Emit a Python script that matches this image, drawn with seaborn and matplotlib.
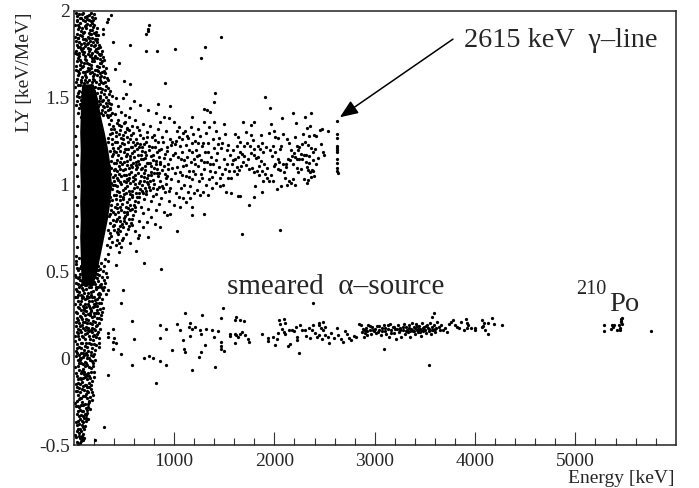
#!python3
import pandas as pd
import matplotlib
matplotlib.use("Agg")
import matplotlib.pyplot as plt
import seaborn as sns

sns.set_style("ticks")
plt.rcParams['font.family'] = ['Liberation Serif', 'DejaVu Serif']

# All points (energy keV, LY keV/MeV)
gamma_line = [(2623,1.367),(2621,1.294),(2621,1.267),(2624,1.223),(2626,1.21),(2628,1.198),(2627,1.185),
    (2625,1.146),(2626,1.123),(2627,1.098),(2628,1.079),(2630,1.066)]

gamma_far = [(1906,1.507),(1956,1.444),(2189,1.415),(2366,1.41),(2302,1.392),(2079,1.381),(1683,1.361),(1796,1.358),
    (1763,1.342),(1969,1.35),(2219,1.356),(2356,1.338),(2329,1.327),(2479,1.319),(2453,1.313),(2536,1.308),
    (1610,1.29),(1640,1.272),(1720,1.302),(1770,1.285),(1790,1.255),(1870,1.288),(1872,1.24),(1950,1.295),
    (1995,1.31),(2005,1.272),(2040,1.27),(2090,1.29),(2130,1.262),(2150,1.238),(2210,1.275),(2222,1.225),
    (2290,1.292),(2350,1.28),(2395,1.285),(2410,1.28),(2465,1.235),(2485,1.188),(2495,1.172),(2400,1.205),
    (2390,1.19),(2370,1.21),(2340,1.23),(2310,1.245),(2280,1.235),(2250,1.218),(2235,1.2),(2270,1.175),
    (2300,1.172),(2320,1.17),(2345,1.165),(2385,1.14),(2350,1.122),(2330,1.1),(2375,1.085),(2385,1.08),
    (2365,1.045),(2335,1.028),(2330,1.01),(2300,1.035),(2270,1.09),(2230,1.095),(2235,1.075),(2190,1.12),
    (2160,1.14),(2140,1.145),(2120,1.12),(2115,1.1),(2085,1.12),(2045,1.132),(2035,1.15),(2005,1.12),
    (2000,1.105),(2040,1.09),(2060,1.085),(2095,1.075),(2110,1.04),(2145,1.02),(2185,1.03),(2165,1.01),
    (2205,1.0),(2125,0.995),(2070,0.99),(2025,0.975),(1990,1.02),(1965,1.055),(1930,1.095),(1900,1.12),
    (1870,1.135),(1850,1.11),(1840,1.16),(1820,1.155),(1800,1.17),(1765,1.18),(1740,1.15),(1700,1.165),
    (1680,1.175),(1660,1.19),(1640,1.16),(1610,1.15),(1590,1.14),(1600,1.08),(1650,1.085),(1630,1.06),
    (1625,1.1),(1665,1.105),(1690,1.13),(1720,1.115),(1745,1.09),(1775,1.095),(1800,1.075),(1830,1.08),
    (1850,1.055),(1880,1.08),(1905,1.06),(1930,1.04),(1950,1.02),(1890,1.02),(1810,0.99),(1875,0.96),
    (1800,0.93),(1660,0.932),(1750,0.88),(1680,0.715),(2055,0.74),(1565,0.95),(1640,0.935),(1570,1.04),
    (1590,1.2),(1625,1.225),(1660,1.245),(1695,1.22),(1730,1.24),(1760,1.225),(1795,1.205),(1835,1.22),
    (1860,1.205),(1885,1.19),(1920,1.215),(1960,1.2),(1985,1.22),(2010,1.19),(1975,1.165),(2055,1.205),
    (2070,1.22),(2165,1.2),(2195,1.18),(2180,1.165),(2205,1.16),(2225,1.15),(2245,1.15),(2280,1.145),
    (2315,1.13),(2340,1.085),(2360,1.07),(2410,1.12),(2430,1.155),(2395,1.05)]

gamma_mid = [(1000,1.36),(1030,1.31),(1050,1.33),(1090,1.3),(1110,1.31),(1140,1.27),(1170,1.33),(1190,1.29),(1210,1.25),
    (1240,1.32),(1260,1.28),(1290,1.24),(1320,1.3),(1350,1.33),(1390,1.26),(1420,1.31),(1450,1.27),(1480,1.24),
    (1510,1.29),(1540,1.23),(1395,1.36),(1300,1.36),(1500,1.35),(1020,1.25),(1060,1.22),(1080,1.26),(1120,1.23),
    (1150,1.2),(1180,1.24),(1220,1.2),(1250,1.17),(1275,1.22),(1310,1.19),(1340,1.24),(1365,1.16),(1400,1.21),
    (1430,1.18),(1465,1.21),(1495,1.15),(1525,1.2),(1560,1.17),(1575,1.12),(1010,1.18),(1040,1.16),(1075,1.19),
    (1100,1.14),(1130,1.16),(1165,1.13),(1200,1.15),(1235,1.11),(1265,1.14),(1295,1.09),(1330,1.13),(1355,1.08),
    (1385,1.12),(1410,1.07),(1445,1.1),(1475,1.06),(1505,1.09),(1535,1.04),(1550,1.08),(1025,1.1),(1055,1.07),
    (1085,1.11),(1115,1.05),(1145,1.08),(1175,1.03),(1205,1.06),(1245,1.02),(1280,1.04),(1315,1.0),(1345,1.03),
    (1375,0.98),(1420,1.01),(1455,0.99),(1490,1.0),(1515,0.96),(1035,1.02),(1070,0.98),(1100,1.0),(1135,0.96),
    (1160,0.99),(1195,0.95),(1225,0.97),(1260,0.94),(1290,0.96),(1335,0.94),(1015,0.95),(1045,0.93),(1090,0.92),
    (1120,0.9),(1155,0.92),(1180,0.87),(1000,0.88),(1060,0.87),(960,0.83),(1178,0.824),(1301,0.83),(1028,0.734),
    (858,0.757),(741,0.699),(645,0.693),(1178,1.392),(954,1.386),(838,1.467),(961,1.45),(1301,1.434),(1328,1.429),
    (1354,1.419),(1401,1.477),(1411,1.53),(911,1.588),(1271,1.728),(828,1.767),(722,1.767),(1005,1.782),(1311,1.79),
    (562,1.803),(1467,1.851),(722,1.866),(745,1.886),(738,1.895),(755,1.918),(369,1.976),(345,1.953),(335,1.937),
    (295,1.899),(289,1.866),(389,1.822),(455,1.703),(412,1.665),(502,1.598),(562,1.578),
    (1012,1.233),(1068,1.148),(1133,1.282),(1187,1.077),(1228,1.162),(1272,1.063),(1338,1.187),(1362,1.117),(1418,1.142),
    (1462,1.038),(1528,1.118),(1182,1.187),(1118,1.113),(1052,1.273),(1302,1.132),(1378,1.042),(1442,1.232),(1212,1.118),
    (1152,1.042),(1082,1.053),(1008,1.068),(1242,1.238)]

gamma_near = [(420,1.5),(490,1.5),(520,1.52),(560,1.44),(600,1.48),(660,1.46),(740,1.43),(820,1.41),(860,1.36),(900,1.39),
    (437,1.452),(468,1.417),(513,1.362),(547,1.392),(583,1.338),(612,1.373),(648,1.317),(693,1.348),(727,1.302),(762,1.337),
    (803,1.283),(842,1.322),(883,1.276),(921,1.307),(958,1.262),(394,1.336),(423,1.303),(452,1.341),(488,1.286),(527,1.318),
    (558,1.263),(592,1.297),(627,1.242),(663,1.284),(704,1.231),(733,1.276),(778,1.215),(812,1.258),(853,1.202),(892,1.243),
    (934,1.196),(972,1.228),(407,1.247),(442,1.213),(473,1.268),(511,1.206),(543,1.247),(577,1.182),(613,1.226),(642,1.173),
    (683,1.217),(712,1.152),(753,1.197),(788,1.143),(827,1.186),(862,1.132),(908,1.177),(943,1.121),(988,1.168),(392,1.174),
    (433,1.143),(458,1.196),(503,1.132),(532,1.178),(572,1.112),(604,1.157),(633,1.103),(672,1.146),(707,1.083),(738,1.127),
    (772,1.073),(818,1.117),(852,1.064),(897,1.106),(932,1.052),(978,1.097),(413,1.091),(453,1.062),(482,1.118),(523,1.053),
    (552,1.096),(593,1.042),(622,1.088),(662,1.023),(698,1.067),(728,1.013),(767,1.058),(803,1.003),(838,1.047),(882,0.992),
    (918,1.036),(963,0.982),(402,1.022),(432,0.993),(472,1.047),(507,0.982),(538,1.027),(578,0.963),(607,1.006),(648,0.951),
    (677,0.997),(717,0.943),(748,0.987),(792,0.932),(828,0.976),(872,0.922),(908,0.957),(952,0.903),(418,0.942),(457,0.913),
    (488,0.967),(527,0.902),(558,0.947),(597,0.883),(628,0.926),(667,0.872),(698,0.917),(737,0.862),(773,0.907),(817,0.852),
    (853,0.887),(897,0.843),(933,0.823),(407,0.873),(438,0.843),(477,0.887),(512,0.822),(543,0.867),(582,0.803),(613,0.846),
    (652,0.792),(688,0.837),(727,0.782),(768,0.816),(812,0.772),(422,0.792),(462,0.763),(498,0.807),(537,0.743),(573,0.776),
    (612,0.733),(652,0.712),(688,0.756),(442,0.713),(478,0.683),(522,0.716),(562,0.662),(398,0.737),(422,0.654),(452,0.613),
    (618,0.618),(705,0.551),(875,0.512),(422,0.537),(489,0.393),(475,0.32),
    (335,1.402),(348,1.347),(362,1.289),(341,1.243),(358,1.196),(333,1.152),(352,1.108),(329,1.071),(347,1.027),(363,0.986),
    (338,0.948),(354,0.903),(331,0.862),(349,0.817),(366,0.776),(337,0.738),(356,0.691),(328,0.654),(346,0.603),(372,1.372),
    (383,1.297),(377,1.232),(386,1.163),(374,1.098),(389,1.043),(378,0.973),(384,0.912),(373,0.851),(387,0.796),(376,0.702),
    (412,1.406),(406,1.322),(417,1.278),(403,1.192),(421,1.127),(408,1.058),(416,0.997),(423,0.916),(411,0.832),(404,0.768),
    (443,1.373),(451,1.294),(437,1.172),(448,1.108),(441,1.028),(453,0.957),(436,0.886),(449,0.812),(444,0.742),(456,0.662),
    (473,1.337),(484,1.237),(468,1.153),(492,1.083),(476,1.002),(487,0.927),(469,0.851),(483,0.772),(496,0.693),(507,1.403),
    (516,1.302),(503,1.233),(519,1.163),(508,1.092),(521,1.017),(506,0.947),(517,0.872),(504,0.793),(534,1.327),(546,1.207),
    (531,1.137),(549,1.062),(536,0.992),(551,0.917),(533,0.833),(547,0.763),(567,1.283),(573,1.217),(562,1.146),(576,1.073),
    (566,1.007),(579,0.927),(563,0.852),(596,1.243),(603,1.192),(591,1.126),(608,1.057),(598,0.978),(611,0.907),(593,0.823),
    (627,1.333),(634,1.206),(622,1.132),(638,1.068),(628,0.987),(641,0.902),(657,1.236),(668,1.173),(653,1.117),(671,1.047),
    (658,0.973),(687,1.267),(693,1.147),(681,1.096),(698,1.022),(686,0.952),(718,1.246),(724,1.173),(712,1.107),(728,1.036),
    (716,0.962),(748,1.223),(757,1.123),(742,1.057),(759,0.968),(778,1.272),(786,1.172),(773,1.107),(789,1.027),(808,1.216),
    (816,1.137),(803,1.067),(819,0.947),(838,1.243),(847,1.157),(833,1.087),(849,0.987),(868,1.206),(877,1.082),(863,1.018),
    (898,1.152),(907,1.063),(893,0.982),(928,1.218),(937,1.092),(923,1.002),(958,1.147),(967,1.032),(953,0.962),(984,1.247),
    (357,1.433),(371,1.318),(344,1.268),(381,1.263),(393,1.212),(368,1.138),(397,1.127),(362,1.062),(399,1.083),(371,1.012),
    (394,0.997),(363,0.927),(401,0.942),(368,0.882),(396,0.843),(359,0.832),(391,0.762),(364,0.721),(384,0.668),(357,0.642),
    (427,1.352),(431,1.246),(426,1.187),(429,1.079),(433,1.037),(427,0.962),(431,0.867),(434,0.803),(428,0.727),(433,0.681),
    (461,1.313),(463,1.221),(459,1.132),(464,1.087),(458,1.014),(463,0.937),(459,0.872),(466,0.792),(461,0.732),(467,0.643),
    (497,1.357),(494,1.263),(497,1.187),(499,1.057),(497,1.019),(493,0.918),(498,0.842),(493,0.757),(528,1.276),(526,1.204),
    (529,1.112),(527,1.032),(526,0.952),(529,0.843),(524,0.777),(556,1.316),(558,1.163),(556,1.037),(554,0.962),(559,0.883),
    (552,0.803),(585,1.218),(583,1.103),(587,1.021),(582,0.942),(586,0.862),(583,0.767),(616,1.262),(618,1.112),(614,1.032),
    (619,0.953),(614,0.872),(647,1.216),(644,1.137),(649,1.012),(646,0.927),(676,1.196),(674,1.087),(678,0.962),(706,1.186),
    (703,1.046),(708,0.982),(734,1.127),(737,1.003),(767,1.166),(763,1.023),(797,1.097),(793,0.982),(827,1.067),(857,1.116)]

strip_top = [(20,1.99),(55,1.98),(90,1.99),(130,1.97),(170,1.99),(200,1.98),(35,1.95),(70,1.96),(110,1.94),(150,1.95),
    (185,1.93),(215,1.96),(15,1.92),(50,1.91),(85,1.9),(125,1.92),(160,1.89),(195,1.91),(225,1.88),(30,1.87),
    (65,1.86),(105,1.88),(140,1.85),(175,1.87),(210,1.84),(240,1.86),(20,1.83),(55,1.82),(95,1.84),(130,1.81),
    (165,1.83),(200,1.8),(235,1.82),(260,1.79),(40,1.79),(75,1.78),(115,1.8),(150,1.77),(185,1.76),(220,1.78),
    (250,1.75),(280,1.77),(15,1.76),(50,1.74),(90,1.75),(125,1.72),(160,1.74),(200,1.71),(235,1.73),(270,1.7),
    (300,1.72),(30,1.71),(65,1.69),(105,1.7),(140,1.67),(175,1.69),(215,1.66),(250,1.68),(285,1.65),(320,1.67),
    (20,1.66),(55,1.64),(90,1.65),(125,1.62),(160,1.64),(195,1.61),(230,1.63),(265,1.6),(300,1.62),(340,1.6),
    (35,1.61),(75,1.59),(110,1.6),(145,1.57),(180,1.59),(215,1.56),(250,1.58),(285,1.55),(320,1.57),(360,1.54),
    (15,1.56),(50,1.54),(90,1.55),(125,1.52),(160,1.54),(195,1.51),(230,1.53),(265,1.5),(300,1.52),(340,1.49),
    (380,1.51),(35,1.51),(70,1.49),(105,1.5),(145,1.47),(180,1.49),(215,1.46),(250,1.48),(290,1.45),(325,1.47),
    (365,1.44),(20,1.46),(55,1.44),(90,1.45),(125,1.43),(160,1.44),(200,1.42),(235,1.43),(270,1.41),(310,1.42),
    (345,1.39),(385,1.41),(40,1.41),(75,1.39),(30,1.34),(15,1.28),(25,1.22),(35,1.17),(12,1.12),(28,1.05),(38,0.99),
    (14,0.93),(30,0.88),(22,0.82),(36,0.76),(16,0.7),(28,0.64),(18,0.59),
    (37,1.973),(78,1.982),(113,1.968),(152,1.977),(186,1.964),(28,1.941),(62,1.932),(97,1.946),(137,1.927),(173,1.942),
    (207,1.918),(42,1.898),(73,1.883),(118,1.902),(148,1.873),(187,1.892),(218,1.862),(12,1.852),(47,1.843),(83,1.857),
    (122,1.834),(153,1.846),(188,1.822),(222,1.832),(252,1.806),(33,1.807),(67,1.793),(102,1.813),(138,1.787),(172,1.803),
    (208,1.772),(243,1.784),(272,1.752),(22,1.772),(57,1.757),(82,1.767),(117,1.742),(147,1.753),(182,1.727),(217,1.743),
    (258,1.722),(288,1.737),(43,1.727),(72,1.708),(112,1.724),(152,1.697),(187,1.713),(228,1.684),(262,1.702),(297,1.683),
    (27,1.682),(58,1.668),(97,1.684),(132,1.652),(168,1.672),(203,1.638),(242,1.653),(277,1.626),(312,1.643),(42,1.632),
    (82,1.618),(117,1.632),(153,1.602),(188,1.624),(223,1.592),(258,1.618),(293,1.587),(328,1.612),(25,1.592),(62,1.573),
    (98,1.584),(133,1.553),(168,1.572),(206,1.538),(243,1.557),(277,1.532),(312,1.547),(347,1.523),(42,1.527),(83,1.513),
    (118,1.532),(153,1.507),(188,1.526),(223,1.492),(258,1.512),(283,1.482),(317,1.503),(352,1.472),(28,1.482),(62,1.467),
    (98,1.476),(133,1.452),(172,1.468),(208,1.437),(243,1.452),(278,1.432),(303,1.447),(337,1.432),(373,1.462),
    (67,1.962),(132,1.952),(197,1.948),(47,1.922),(108,1.912),(167,1.917),(232,1.902),(88,1.874),(163,1.867),(202,1.872),
    (38,1.846),(108,1.837),(178,1.843),(237,1.841),(72,1.812),(147,1.818),(217,1.806),(92,1.787),(162,1.781),(233,1.762),
    (32,1.752),(102,1.762),(172,1.748),(262,1.748),(62,1.718),(132,1.702),(207,1.727),(282,1.712),(87,1.677),(157,1.662),
    (232,1.662),(302,1.652),(47,1.652),(112,1.648),(182,1.648),(262,1.642),(72,1.602),(137,1.592),(207,1.602),(277,1.592),
    (312,1.592),(47,1.573),(112,1.562),(187,1.552),(262,1.558),(337,1.558),(82,1.532),(142,1.487),(212,1.512),(297,1.487),
    (57,1.502),(122,1.482),(192,1.462),(262,1.462),(332,1.452),(77,1.452),(147,1.432),(222,1.417),(297,1.402),(362,1.402)]

strip_bottom = [(20,0.56),(55,0.58),(95,0.55),(130,0.57),(170,0.54),(205,0.56),(240,0.53),(275,0.55),(310,0.57),(345,0.56),
    (35,0.52),(70,0.53),(110,0.5),(145,0.52),(185,0.49),(220,0.51),(255,0.48),(290,0.5),(330,0.47),(15,0.48),
    (50,0.47),(90,0.48),(125,0.45),(165,0.47),(200,0.44),(235,0.46),(270,0.43),(305,0.45),(40,0.43),(75,0.42),
    (115,0.44),(150,0.41),(185,0.43),(225,0.4),(260,0.42),(295,0.39),(345,0.39),(20,0.4),(55,0.38),(95,0.39),
    (130,0.36),(170,0.38),(205,0.35),(240,0.37),(280,0.34),(320,0.37),(35,0.35),(70,0.33),(110,0.34),(145,0.31),
    (180,0.33),(215,0.3),(255,0.32),(290,0.29),(15,0.31),(50,0.29),(90,0.3),(125,0.27),(160,0.29),(200,0.26),
    (235,0.28),(270,0.25),(35,0.26),(70,0.24),(110,0.25),(145,0.22),(180,0.24),(215,0.21),(255,0.23),(20,0.21),
    (55,0.2),(90,0.21),(125,0.18),(165,0.2),(200,0.17),(235,0.19),(262,0.167),(40,0.17),(75,0.15),(110,0.16),
    (150,0.13),(185,0.15),(220,0.12),(252,0.115),(15,0.13),(50,0.11),(90,0.12),(125,0.09),(165,0.11),(205,0.08),
    (252,0.09),(35,0.08),(70,0.06),(110,0.07),(145,0.04),(185,0.06),(252,0.065),(20,0.04),(55,0.02),(95,0.03),
    (130,0.0),(170,0.02),(210,-0.01),(40,-0.01),(75,-0.03),(115,-0.02),(150,-0.05),(190,-0.03),(15,-0.05),(55,-0.07),
    (95,-0.06),(130,-0.09),(170,-0.08),(205,-0.11),(35,-0.1),(75,-0.12),(110,-0.11),(150,-0.14),(185,-0.13),(20,-0.15),
    (55,-0.17),(95,-0.16),(130,-0.19),(170,-0.18),(190,-0.21),(40,-0.21),(75,-0.23),(115,-0.22),(150,-0.25),(180,-0.24),
    (15,-0.26),(55,-0.28),(95,-0.27),(130,-0.3),(165,-0.29),(35,-0.32),(75,-0.33),(110,-0.32),(145,-0.35),(20,-0.37),
    (55,-0.38),(95,-0.37),(125,-0.36),(40,-0.41),(75,-0.42),(100,-0.41),(15,-0.44),(50,-0.45),(80,-0.46),(30,-0.48),
    (65,-0.49),(90,-0.47),(305,-0.396),(212,-0.473),(345,-0.095),(60,0.45),(85,0.36),(100,0.28),(30,0.15),(75,0.09),
    (60,0.0),(100,-0.08),(30,-0.19),(60,-0.3),(20,0.47),(110,0.42),(150,0.35),(175,0.27),(140,0.16),(120,0.03),
    (27,0.543),(63,0.517),(83,0.538),(118,0.512),(157,0.503),(193,0.522),(228,0.487),(262,0.511),(283,0.468),(318,0.492),
    (42,0.462),(78,0.447),(103,0.472),(138,0.437),(172,0.453),(208,0.427),(247,0.443),(277,0.412),(312,0.431),(23,0.433),
    (57,0.412),(87,0.427),(122,0.397),(158,0.418),(192,0.386),(218,0.408),(252,0.373),(287,0.402),(33,0.387),(68,0.366),
    (102,0.377),(137,0.347),(177,0.362),(212,0.336),(248,0.352),(272,0.317),(17,0.352),(47,0.327),(82,0.344),(117,0.312),
    (152,0.327),(188,0.297),(223,0.318),(263,0.284),(38,0.297),(73,0.278),(107,0.287),(142,0.257),(172,0.276),(207,0.243),
    (242,0.262),(277,0.227),(22,0.267),(58,0.243),(92,0.262),(127,0.227),(162,0.247),(197,0.212),(232,0.232),(43,0.218),
    (78,0.193),(112,0.207),(147,0.176),(182,0.197),(217,0.162),(247,0.153),(27,0.183),(62,0.162),(97,0.176),(132,0.143),
    (172,0.163),(207,0.132),(17,0.097),(47,0.143),(82,0.127),(117,0.113),(152,0.087),(192,0.103),(227,0.076),(37,0.057),
    (72,0.032),(102,0.047),(137,0.017),(177,0.036),(197,0.012),(27,0.012),(62,-0.013),(97,0.007),(122,-0.027),(162,-0.012),
    (197,-0.047),(47,-0.043),(82,-0.072),(112,-0.047),(142,-0.083),(177,-0.057),(27,-0.083),(62,-0.112),(102,-0.093),(137,-0.122),
    (167,-0.112),(42,-0.143),(87,-0.137),(122,-0.152),(172,-0.152),(27,-0.187),(67,-0.197),(107,-0.182),(147,-0.192),(52,-0.237),
    (92,-0.217),(132,-0.232),(167,-0.222),(27,-0.277),(72,-0.272),(112,-0.262),(147,-0.282),(47,-0.302),(92,-0.307),(127,-0.327),
    (67,-0.352),(107,-0.347),(37,-0.387),(82,-0.387),(117,-0.392),(57,-0.432),(92,-0.437),(27,-0.452),(72,-0.477),(47,-0.492),
    (43,0.507),(102,0.527),(137,0.482),(212,0.468),(247,0.507),(298,0.532),(67,0.487),(127,0.421),(177,0.409),(242,0.413),
    (302,0.412),(87,0.402),(147,0.378),(187,0.352),(232,0.342),(267,0.372),(47,0.362),(97,0.352),(157,0.302),(202,0.311),
    (237,0.303),(283,0.268),(62,0.312),(122,0.297),(167,0.261),(222,0.263),(252,0.202),(32,0.232),(82,0.227),(137,0.202),
    (187,0.172),(227,0.187),(67,0.187),(117,0.137),(157,0.157),(197,0.127),(237,0.137),(42,0.127),(87,0.087),(137,0.067),
    (177,0.083),(217,0.047),(57,0.067),(107,0.017),(157,0.002),(207,0.027),(32,0.032),(77,0.002),(132,-0.037),(182,-0.017),
    (52,-0.027),(92,-0.032),(152,-0.102),(202,-0.077),(72,-0.088),(122,-0.102),(42,-0.117),(92,-0.112),(157,-0.167),(62,-0.147),
    (112,-0.157),(37,-0.167),(82,-0.177),(137,-0.167),(178,-0.197),(62,-0.227),(122,-0.207),(157,-0.247),(37,-0.247),(87,-0.252),
    (142,-0.262),(47,-0.277),(122,-0.287),(82,-0.302),(137,-0.317),(57,-0.332),(92,-0.332),(122,-0.347),(47,-0.362),(82,-0.362),
    (62,-0.407),(97,-0.397),(32,-0.417),(82,-0.447),(107,-0.462),(62,-0.462)]

alpha_low = [(1025,0.199),(1161,0.205),(858,0.192),(1611,0.222),(915,0.17),(1145,0.182),(1178,0.17),(1211,0.178),(1058,0.163),
    (1254,0.163),(1314,0.17),(1381,0.165),(1441,0.157),(1271,0.142),(1161,0.128),(861,0.115),(605,0.109),(1398,0.12),
    (1085,0.103),(1471,0.094),(1561,0.138),(1554,0.128),(1621,0.132),(1604,0.088),(1304,0.074),(1467,0.071),(975,0.05),
    (1095,0.055),(1111,0.038),(1471,0.051),(1501,0.04),(1271,0.034),(1244,0.009),(748,0.015),(698,0.001),(791,0.001),
    (861,-0.014),(915,-0.041),(585,-0.037),(1178,-0.068),(1411,-0.052),(825,-0.141),(585,0.213),(1111,0.263),(1277,0.251),
    (1487,0.288),(1467,0.232),(475,0.025),(392,0.051),(395,0.167),(345,0.144),(345,0.124),(402,0.117),(395,0.092),(422,0.088),
    (1620,0.235),(1660,0.22),(1700,0.215),(1610,0.14),(1640,0.12),(1660,0.14),(1680,0.15),(1710,0.135),(1740,0.11),(1745,0.095)]

alpha_mid = [(1880,0.14),(1935,0.115),(1985,0.12),(1940,0.1),(2010,0.075),(2030,0.11),(2040,0.145),(2046,0.22),(2060,0.195),
    (2080,0.17),(2095,0.15),(2110,0.2),(2110,0.14),(2140,0.07),(2155,0.08),(2180,0.16),(2220,0.18),(2230,0.125),(2225,0.105),
    (2280,0.165),(2310,0.16),(2320,0.13),(2360,0.115),(2350,0.175),(2390,0.19),(2400,0.145),(2425,0.125),(2445,0.19),
    (2460,0.175),(2480,0.16),(2470,0.11),(2500,0.135),(2530,0.12),(2545,0.09),(2560,0.145),(2590,0.115),(2630,0.135),
    (2660,0.11),(2680,0.095),(2700,0.155),(2720,0.14),(2740,0.115),(2760,0.105),(2790,0.13),(2815,0.125),(2840,0.195),
    (2870,0.15),(2890,0.12),(2905,0.165),(2925,0.135),(2382,0.317),(2246,0.032),(3538,-0.039),(3095,0.055),(2100,0.225),
    (2145,0.165),(2195,0.155),(2260,0.19),(2375,0.16),(2480,0.21),(2440,0.205),(2500,0.18),(2440,0.135),(2620,0.175)]

alpha_dense = [(2860,0.19),(2880,0.17),(2900,0.145),(2915,0.175),(2935,0.19),(2950,0.16),(2965,0.14),(2975,0.18),(2990,0.155),
    (3005,0.17),(3020,0.185),(3035,0.15),(3045,0.165),(3060,0.135),(3075,0.175),(3090,0.19),(3100,0.155),(3115,0.14),(3130,0.17),
    (3140,0.125),(3150,0.195),(3165,0.16),(3180,0.18),(3195,0.145),(3205,0.17),(3215,0.11),(3230,0.19),(3240,0.15),(3255,0.175),
    (3265,0.125),(3280,0.16),(3290,0.195),(3300,0.14),(3310,0.18),(3320,0.165),(3330,0.15),(3340,0.19),(3350,0.125),(3360,0.17),
    (3370,0.205),(3380,0.155),(3390,0.18),(3400,0.14),(3410,0.195),(3420,0.165),(3430,0.15),(3440,0.185),(3450,0.17),(3460,0.13),
    (3470,0.2),(3480,0.155),(3490,0.18),(3500,0.165),(3510,0.145),(3520,0.19),(3530,0.175),(3540,0.155),(3550,0.205),(3560,0.14),
    (3570,0.18),(3580,0.165),(3590,0.19),(3600,0.15),(3610,0.175),(3620,0.21),(3588,0.259),(3575,0.24),(3640,0.18),(3650,0.165),
    (3660,0.19),(3680,0.16),(3700,0.175),(3720,0.15),(3740,0.195),(3765,0.21),(3780,0.22),(3800,0.19),(3820,0.18),(3460,0.16),
    (3430,0.17),(3400,0.175),(3370,0.165),(3340,0.175),(3310,0.155),(3280,0.18),(3250,0.16),(3220,0.17),(3190,0.18),(3160,0.145),
    (3130,0.19),(3100,0.175),(3070,0.155),(3040,0.185),(3010,0.145),(2980,0.165),(2950,0.185),(2920,0.155),(2890,0.165),(3390,0.155),
    (3420,0.185),(3450,0.15),(3480,0.175),(3510,0.185),(3540,0.17),(3570,0.16),(3600,0.17),(3495,0.16),(3445,0.165),(3355,0.155)]

alpha_end = [(3906,0.224),(3923,0.205),(3930,0.192),(3890,0.163),(3923,0.176),(3963,0.176),(3996,0.172),(4000,0.161),(4069,0.219),
    (4089,0.205),(4079,0.186),(4069,0.178),(4096,0.163),(4129,0.205),(4173,0.234),(4186,0.196),(4133,0.138),(4269,0.19),(3860,0.21),(3845,0.175)]

po_peak = [(5285,0.19),(5285,0.159),(5355,0.171),(5368,0.19),(5388,0.192),(5415,0.163),(5445,0.163),(5435,0.192),(5461,0.234),
    (5455,0.224),(5451,0.209),(5468,0.196),(5445,0.176),(5458,0.215),(5378,0.182),(5754,0.155)]

# dark core of the gamma band, too dense to pick single dots out of
core_ly = [0.42, 0.5, 0.6, 0.7, 0.8, 0.9, 1.0, 1.1, 1.2, 1.3, 1.4, 1.5, 1.58]
core_e_lo = [80, 70, 65, 60, 65, 60, 65, 60, 65, 60, 65, 70, 80]
core_e_hi = [190, 230, 265, 300, 335, 360, 375, 365, 340, 305, 265, 235, 195]

xticks_major = [1000, 2000, 3000, 4000, 5000]
yticks = [-0.5, 0, 0.5, 1, 1.5, 2]
ylabels = ["-0.5", "0", "0.5", "1", "1.5", "2"]

points = gamma_line + gamma_far + gamma_mid + gamma_near + strip_top + strip_bottom
points += alpha_low + alpha_mid + alpha_dense + alpha_end + po_peak
df = pd.DataFrame(points, columns=["energy", "ly"])

fig = plt.figure(figsize=(6.99, 4.88), dpi=100)
ax = fig.add_axes([73.7/699, 1-445/488, 602/699, 434/488])

ax.fill_betweenx(core_ly, core_e_lo, core_e_hi, color="k", lw=0)
sns.scatterplot(data=df, x="energy", y="ly", color="k", s=5.5, linewidth=0, ax=ax)

ax.set_xlim(0, 6000)
ax.set_ylim(-0.5, 2)
ax.set_xticks(xticks_major)
ax.set_xticks(range(200, 6000, 200), minor=True)
ax.set_yticks(yticks, ylabels)
ax.tick_params(axis="x", which="major", direction="in", length=9.5, width=0.8, labelsize=14, pad=6, color="#333333")
ax.tick_params(axis="x", which="minor", direction="in", length=4.8, width=0.8, color="#333333")
ax.tick_params(axis="y", which="major", length=0, labelsize=14, pad=3)
for s in ax.spines.values():
    s.set_linewidth(1.1)
    s.set_color("#222222")

ax.set_xlabel("")
ax.set_ylabel("")
fig.text(675/699, 1-483/488, "Energy [keV]", fontsize=14, ha="right", va="baseline")
fig.text(25/699, 1-72/488, "LY [keV/MeV]", fontsize=14, rotation=90, ha="center", va="center")

ax.text(3890, 1.79, "2615 keV  γ–line", fontsize=20.3, ha="left", va="baseline")
ax.text(1525, 0.37, "smeared  α–source", fontsize=21, ha="left", va="baseline")
ax.text(5010, 0.37, "210", fontsize=14.5, ha="left", va="baseline")
ax.text(5340, 0.27, "Po", fontsize=20.5, ha="left", va="baseline")
ax.annotate("", xy=(2653, 1.388), xytext=(3780, 1.838),
            arrowprops=dict(arrowstyle="-|>,head_length=1.1,head_width=0.45", color="k", lw=1.1, shrinkA=0, shrinkB=0))

fig.savefig("out.png", dpi=100)
